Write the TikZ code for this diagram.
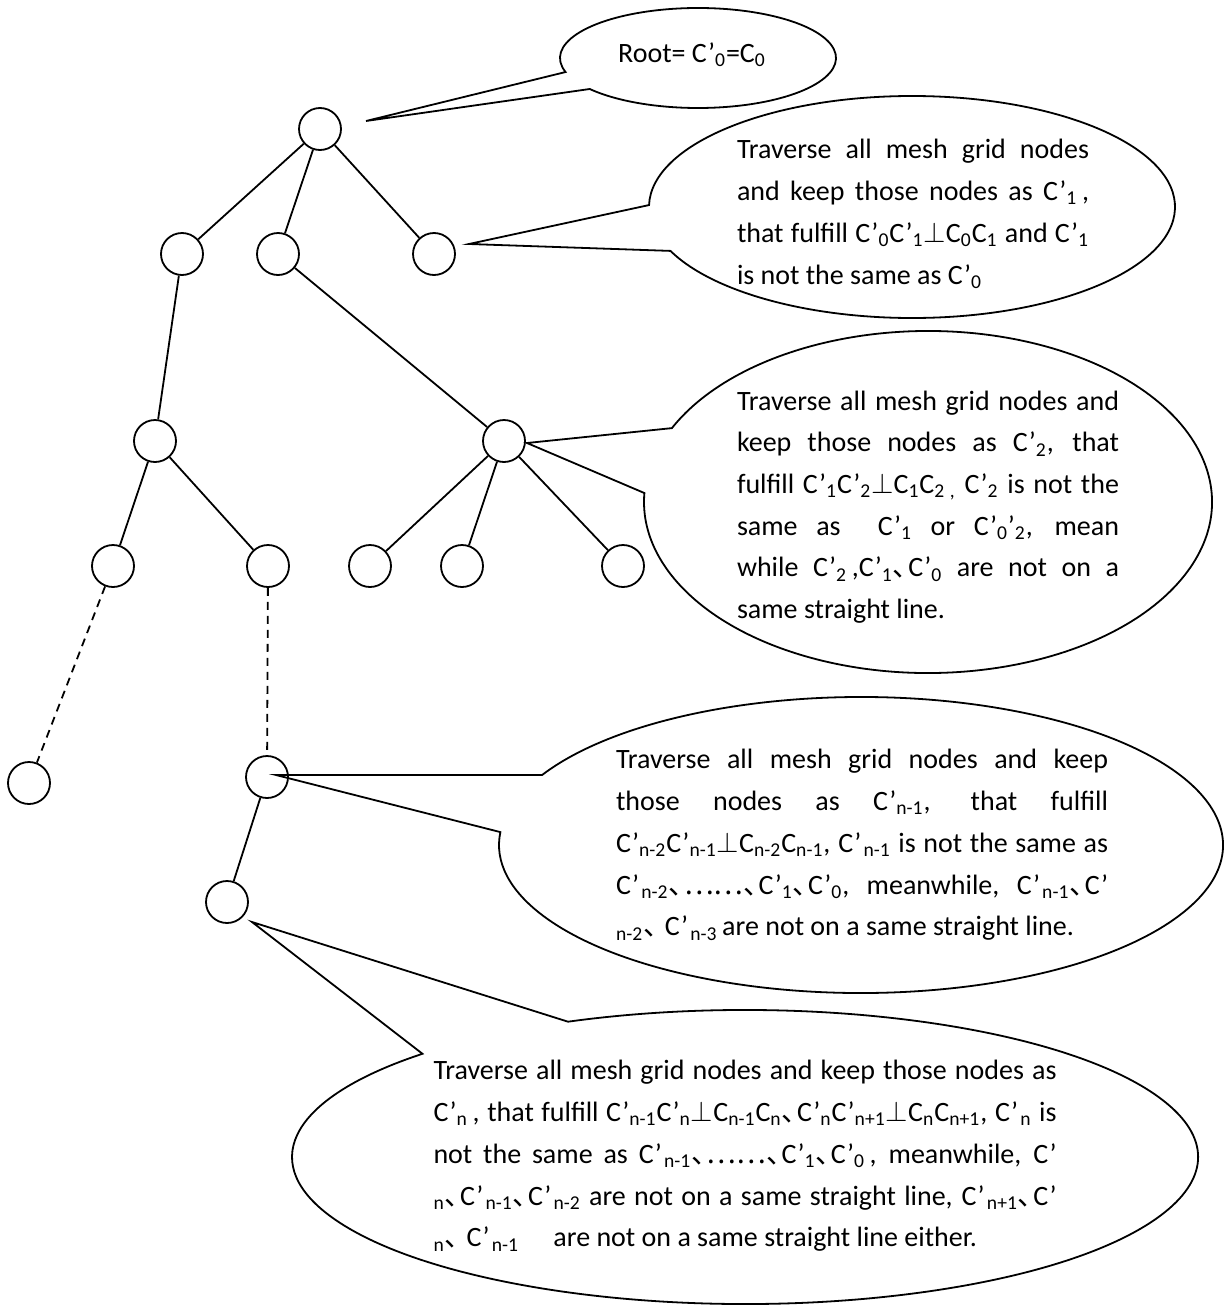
\documentclass[tikz,border=0pt]{standalone}
\usepackage{fontspec}
\setmainfont{Carlito}
\newfontfamily\cjk{Noto Sans CJK SC}
\usetikzlibrary{calc,positioning}
\newcommand{\Cp}[1]{C’\textsubscript{#1}}
\newcommand{\Cq}[1]{C’\kern0.08em\textsubscript{#1}}
\newcommand{\Cc}[1]{C\textsubscript{#1}}
\newcommand{\dn}{\makebox[0.55em][l]{\cjk 、}}
\tikzset{
  vx/.style={draw,circle,minimum size=21pt,inner sep=0pt,line width=0.9pt},
  ln/.style={line width=0.9pt},
  dl/.style={line width=0.9pt,dash pattern=on 4pt off 3pt},
  bub/.style={draw,line width=0.9pt},
  txt/.style={text width=#1,align=justify,inner sep=0pt,font=\fontsize{14}{20.85}\selectfont}
}
\begin{document}
\begin{tikzpicture}[x=0.5pt,y=-0.5pt]
\useasboundingbox (0,0) rectangle (1228,1306);
% search tree
\node[vx] (r) at (320,129) {};
\node[vx] (a1) at (182,254) {};
\node[vx] (a2) at (278,254) {};
\node[vx] (a3) at (434,254) {};
\node[vx] (b1) at (155,441) {};
\node[vx] (b2) at (504,441) {};
\node[vx] (c1) at (113,566) {};
\node[vx] (c2) at (268,566) {};
\node[vx] (c3) at (370,566) {};
\node[vx] (c4) at (462,566) {};
\node[vx] (c5) at (623,566) {};
\node[vx] (d1) at (29,783) {};
\node[vx] (d2) at (267,777) {};
\node[vx] (e) at (227,902) {};
\draw[ln] (r) -- (a1) (r) -- (a2) (r) -- (a3);
\draw[ln] (a1) -- (b1) (a2) -- (b2);
\draw[ln] (b1) -- (c1) (b1) -- (c2);
\draw[ln] (b2) -- (c3) (b2) -- (c4) (b2) -- (c5);
\draw[dl] (c1) -- (d1) (c2) -- (d2);
\draw[ln] (d2) -- (e);

% callouts
\coordinate (o0) at (698,58);  \coordinate (p0) at (366,121);
\coordinate (o1) at (912,207); \coordinate (p1) at (469,244);
\coordinate (o2) at (928,502); \coordinate (p2) at (527,443);
\coordinate (o3) at (861,845); \coordinate (p3) at (276,775);
\coordinate (o4) at (745,1157); \coordinate (p4) at (252,922);
\draw[bub] (p0) -- ($(o0)+(163.7:138 and 50)$) arc[start angle=163.7,end angle=501.7,x radius=138,y radius=50] -- cycle;
\draw[bub] (p1) -- ($(o1)+(181:263 and 111)$) arc[start angle=181,end angle=516.7,x radius=263,y radius=111] -- cycle;
\draw[bub] (p2) -- ($(o2)+(205.6:284 and 171)$) arc[start angle=205.6,end angle=543,x radius=284,y radius=171] -- cycle;
\draw[bub] (p3) -- ($(o3)+(208.2:362 and 148)$) arc[start angle=208.2,end angle=545,x radius=362,y radius=148] -- cycle;
\draw[bub] (p4) -- ($(o4)+(247:453 and 147)$) arc[start angle=247,end angle=584.6,x radius=453,y radius=147] -- cycle;

\node[font=\fontsize{14}{20.85}\selectfont,inner sep=0pt] (t0) at (692,55) {Root= \Cp{0}=\Cc{0}};
\node[txt=176pt] (t1) at (913,214) {Traverse all mesh grid nodes \linebreak and keep those nodes as \Cp{1}\,, \linebreak that fulfill \Cp{0}\Cp{1}$\perp$\Cc{0}\Cc{1} and \Cp{1} \linebreak is not the same as \Cp{0}};
\node[txt=191pt] (t2) at (928,507) {Traverse all mesh grid nodes and \linebreak keep those nodes as \Cp{2}, that \linebreak fulfill \Cp{1}\Cp{2}$\perp$\Cc{1}\Cc{2}\,\textsubscript{,} \Cp{2} is not the \linebreak same as \ \Cp{1} or \Cp{0}’\textsubscript{2}, mean \linebreak while \Cp{2}\,,\Cp{1}\dn\Cp{0} are not on a \linebreak same straight line.};
\node[txt=246pt] (t3) at (862,845) {Traverse all mesh grid nodes and keep \linebreak those nodes as \Cp{n-1}, that fulfill \linebreak \Cp{n-2}\Cp{n-1}$\perp$\Cc{n-2}\Cc{n-1}, \Cq{n-1} is not the same as \linebreak \Cq{n-2}\dn{\cjk ……}\dn\Cp{1}\dn\Cp{0}, meanwhile, \Cq{n-1}\dn C’ \linebreak \textsubscript{n-2}\dn\ \Cq{n-3}\,are not on a same straight line.};
\node[txt=311.5pt] (t4) at (745,1156) {Traverse all mesh grid nodes and keep those nodes as \linebreak \Cp{n}\,, that fulfill \Cp{n-1}\Cp{n}$\perp$\Cc{n-1}\Cc{n}\dn\Cp{n}\Cp{n+1}$\perp$\Cc{n}\Cc{n+1}, \Cq{n} is \linebreak not the same as \Cq{n-1}\dn{\cjk ……}\dn\Cp{1}\dn\Cp{0}\,, meanwhile, C’ \linebreak \textsubscript{n}\dn\Cq{n-1}\dn\Cq{n-2} are not on a same straight line, \Cq{n+1}\dn C’ \linebreak \textsubscript{n}\dn\ \Cq{n-1} \quad are not on a same straight line either.};
\end{tikzpicture}
\end{document}
